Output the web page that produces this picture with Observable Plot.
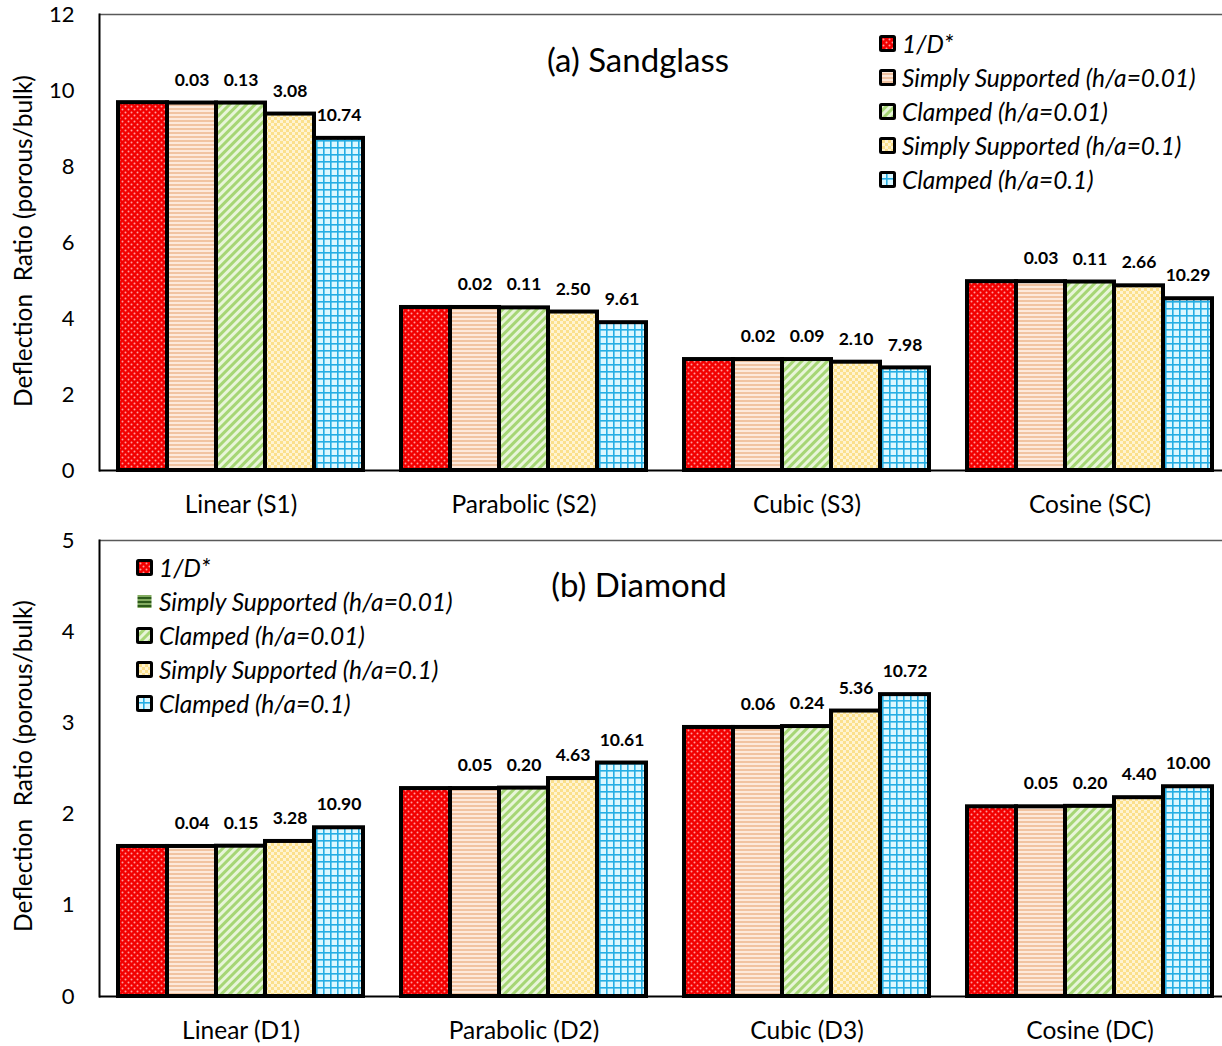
<!DOCTYPE html>
<html><head><meta charset="utf-8">
<script src="https://cdn.jsdelivr.net/npm/d3@7"></script>
<script src="https://cdn.jsdelivr.net/npm/@observablehq/plot@0.6"></script>
<style>
body{margin:0;background:#fff;font-family:Lato,"Open Sans",sans-serif;color:#000;}
#wrap{position:relative;width:1222px;height:1046px;overflow:hidden;background:#fff;}
.panel{position:absolute;left:0;}
.ylab{position:absolute;font-size:24.5px;white-space:pre;transform:translate(-50%,-50%) rotate(-90deg);}
.title{position:absolute;font-size:33px;transform:translate(-50%,-50%);white-space:nowrap;}
.legend{position:absolute;font-style:italic;font-size:24.5px;}
.legend .row{display:flex;align-items:center;height:34px;white-space:nowrap;}
.legend svg{margin-right:6px;}
</style></head><body>
<svg width="0" height="0" style="position:absolute">
<defs>
  <pattern id="pRed" width="6" height="6" patternUnits="userSpaceOnUse">
    <rect width="6" height="6" fill="#f20000"/>
    <circle cx="1.5" cy="1.5" r="1" fill="#ff9c9c"/>
    <circle cx="4.5" cy="4.5" r="1" fill="#ff9c9c"/>
  </pattern>
  <pattern id="pPeach" width="4" height="4" patternUnits="userSpaceOnUse">
    <rect width="4" height="4" fill="#fde9db"/>
    <rect width="4" height="2" fill="#f1c3a1"/>
  </pattern>
  <pattern id="pGreen" width="6" height="6" patternUnits="userSpaceOnUse" patternTransform="rotate(45)">
    <rect width="6" height="6" fill="#e8f5d9"/>
    <rect width="3" height="6" fill="#a6d675"/>
  </pattern>
  <pattern id="pYellow" width="6" height="6" patternUnits="userSpaceOnUse">
    <rect width="6" height="6" fill="#fff4d2"/>
    <rect width="3" height="3" fill="#fbe08c"/>
    <rect x="3" y="3" width="3" height="3" fill="#fbe08c"/>
  </pattern>
  <pattern id="pBlue" width="7" height="7" patternUnits="userSpaceOnUse">
    <rect width="7" height="7" fill="#dcf8ff"/>
    <rect width="1.6" height="7" fill="#25aee4"/>
    <rect width="7" height="1.6" fill="#25aee4"/>
  </pattern>
  <pattern id="pDarkGreen" width="4" height="4" patternUnits="userSpaceOnUse">
    <rect width="4" height="4" fill="#84ad62"/>
    <rect width="4" height="2" fill="#2c5a1a"/>
  </pattern>
</defs>
</svg>
<div id="wrap"></div>
<script>
// ---- data ----
const seriesNames = ["1/D*", "Simply Supported (h/a=0.01)", "Clamped (h/a=0.01)", "Simply Supported (h/a=0.1)", "Clamped (h/a=0.1)"];
const patternFills = ["url(#pRed)", "url(#pPeach)", "url(#pGreen)", "url(#pYellow)", "url(#pBlue)"];

// (a) Sandglass
const groupsA = ["Linear (S1)", "Parabolic (S2)", "Cubic (S3)", "Cosine (SC)"];
const invD_A   = [9.68, 4.29, 2.92, 4.97];
const ss001_A  = [9.67, 4.29, 2.92, 4.97];
const c001_A   = [9.67, 4.28, 2.92, 4.96];
const ss01_A   = [9.38, 4.17, 2.85, 4.86];
const c01_A    = [8.74, 3.89, 2.70, 4.52];
const ss001LabA = ["0.03", "0.02", "0.02", "0.03"];
const c001LabA  = ["0.13", "0.11", "0.09", "0.11"];
const ss01LabA  = ["3.08", "2.50", "2.10", "2.66"];
const c01LabA   = ["10.74", "9.61", "7.98", "10.29"];
const yTicksA = [0, 2, 4, 6, 8, 10, 12];

// (b) Diamond
const groupsB = ["Linear (D1)", "Parabolic (D2)", "Cubic (D3)", "Cosine (DC)"];
const invD_B   = [1.645, 2.28, 2.95, 2.08];
const ss001_B  = [1.645, 2.28, 2.95, 2.08];
const c001_B   = [1.648, 2.285, 2.96, 2.085];
const ss01_B   = [1.70, 2.39, 3.13, 2.18];
const c01_B    = [1.85, 2.56, 3.31, 2.30];
const ss001LabB = ["0.04", "0.05", "0.06", "0.05"];
const c001LabB  = ["0.15", "0.20", "0.24", "0.20"];
const ss01LabB  = ["3.28", "4.63", "5.36", "4.40"];
const c01LabB   = ["10.90", "10.61", "10.72", "10.00"];
const yTicksB = [0, 1, 2, 3, 4, 5];

const yTitle = "Deflection\u00a0 Ratio (porous/bulk)";

function buildRows(groups, valueArrays, labelArrays) {
  const rows = [];
  groups.forEach((g, gi) => {
    seriesNames.forEach((s, si) => {
      rows.push({group: g, series: s, value: valueArrays[si][gi], label: labelArrays[si] ? labelArrays[si][gi] : null});
    });
  });
  return rows;
}

function panel(groups, rows, yTicks, height, mt, mb) {
  const yMax = yTicks[yTicks.length - 1];
  return Plot.plot({
    width: 1222, height,
    marginLeft: 98, marginRight: -9, marginTop: mt, marginBottom: mb,
    style: {fontFamily: "Lato, 'Open Sans', sans-serif", fontSize: "22px", background: "white", color: "#000"},
    fx: {domain: groups, padding: 0, label: null, axis: null},
    x: {domain: seriesNames, axis: null, paddingInner: 0, paddingOuter: 0.36},
    y: {domain: [0, yMax], ticks: yTicks, tickFormat: "d", label: null, tickSize: 0, tickPadding: 25},
    color: {domain: seriesNames, range: patternFills},
    marks: [
      Plot.ruleY([yMax], {stroke: "#595959", strokeWidth: 1.5}),
      Plot.barY(rows, {fx: "group", x: "series", y: "value", fill: "series", stroke: "#000", strokeWidth: 4}),
      Plot.ruleY([0], {stroke: "#000", strokeWidth: 2}),
      Plot.frame({anchor: "left", facetAnchor: "left", stroke: "#000", strokeWidth: 2}),
      Plot.axisFx({anchor: "bottom", tickSize: 0, tickPadding: 25, fontSize: 24.5, label: null}),
      Plot.text(rows.filter(d => d.label), {fx: "group", x: "series", y: "value", text: "label", dy: -23, fontWeight: "bold", fontSize: 17.5})
    ]
  });
}

const wrap = document.getElementById("wrap");

const rowsA = buildRows(groupsA, [invD_A, ss001_A, c001_A, ss01_A, c01_A], [null, ss001LabA, c001LabA, ss01LabA, c01LabA]);
const rowsB = buildRows(groupsB, [invD_B, ss001_B, c001_B, ss01_B, c01_B], [null, ss001LabB, c001LabB, ss01LabB, c01LabB]);

const pA = panel(groupsA, rowsA, yTicksA, 525, 14, 55);
pA.classList.add("panel"); pA.style.top = "0px";
wrap.appendChild(pA);

const pB = panel(groupsB, rowsB, yTicksB, 521, 15, 50);
pB.classList.add("panel"); pB.style.top = "525px";
wrap.appendChild(pB);

function addDiv(cls, text, left, top) {
  const d = document.createElement("div");
  d.className = cls; d.textContent = text;
  d.style.left = left + "px"; d.style.top = top + "px";
  wrap.appendChild(d); return d;
}
addDiv("ylab", yTitle, 22, 241);
addDiv("ylab", yTitle, 22, 766);
addDiv("title", "(a) Sandglass", 638, 59);
addDiv("title", "(b) Diamond", 639, 584);

function legend(left, top, fills, borders) {
  const L = document.createElement("div");
  L.className = "legend";
  L.style.left = left + "px"; L.style.top = top + "px";
  seriesNames.forEach((s, i) => {
    const r = document.createElement("div"); r.className = "row";
    const svg = borders[i]
      ? `<svg width="17" height="17"><rect x="1.5" y="1.5" width="14" height="14" fill="${fills[i]}" stroke="#000" stroke-width="3" rx="1"/></svg>`
      : `<svg width="17" height="17"><rect x="1.5" y="2" width="14" height="13" fill="${fills[i]}"/></svg>`;
    r.innerHTML = svg + `<span>${s}</span>`;
    L.appendChild(r);
  });
  wrap.appendChild(L);
}
legend(879, 26, patternFills, [true, true, true, true, true]);
legend(136, 550, ["url(#pRed)", "url(#pDarkGreen)", "url(#pGreen)", "url(#pYellow)", "url(#pBlue)"], [true, false, true, true, true]);
</script>
</body></html>
